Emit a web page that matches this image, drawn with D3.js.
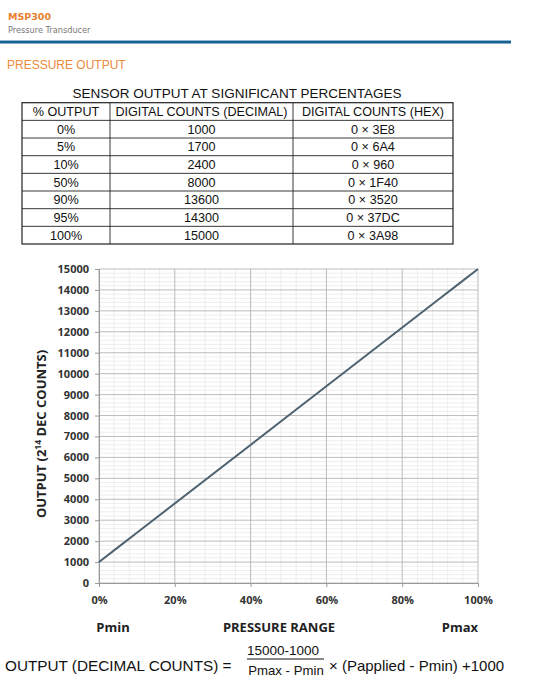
<!DOCTYPE html>
<html><head><meta charset="utf-8">
<script src="https://cdn.jsdelivr.net/npm/d3@7"></script>
<style>body{margin:0;background:#fff}svg{display:block}</style>
</head><body>
<svg id="c" width="533" height="686"></svg>
<script>
const tableHeaders = ["% OUTPUT", "DIGITAL COUNTS (DECIMAL)", "DIGITAL COUNTS (HEX)"];
const pctOutput = [0, 5, 10, 50, 90, 95, 100];
const decCounts = [1000, 1700, 2400, 8000, 13600, 14300, 15000];
const hexCounts = ["0 × 3E8", "0 × 6A4", "0 × 960", "0 × 1F40", "0 × 3520", "0 × 37DC", "0 × 3A98"];
const xTicks = [0, 20, 40, 60, 80, 100];
const yTicks = [0,1000,2000,3000,4000,5000,6000,7000,8000,9000,10000,11000,12000,13000,14000,15000];

const svg = d3.select("#c");
const orange = "#e8802e";

// header
svg.append("text").attr("x",8).attr("y",20).text("MSP300")
  .attr("font-family","DejaVu Sans").attr("font-weight","bold").attr("font-size",9.5).attr("fill",orange);
svg.append("text").attr("x",8).attr("y",33).text("Pressure Transducer")
  .attr("font-family","DejaVu Sans").attr("font-size",8.2).attr("fill","#777");
svg.append("rect").attr("x",0).attr("y",40).attr("width",511).attr("height",1).attr("fill","#8dbbd8");
svg.append("rect").attr("x",0).attr("y",41).attr("width",511).attr("height",2.5).attr("fill","#17608f");
svg.append("text").attr("x",7).attr("y",69).text("PRESSURE OUTPUT")
  .attr("font-family","Liberation Sans").attr("font-size",12).attr("fill","#ec8a3c");

// table
svg.append("text").attr("x",237).attr("y",98).attr("text-anchor","middle")
  .text("SENSOR OUTPUT AT SIGNIFICANT PERCENTAGES")
  .attr("font-family","Liberation Sans").attr("font-size",13.5).attr("fill","#111");
const colX = [22, 110, 293, 453];
const tTop = 102.7, tBot = 244;
const rows = [tableHeaders].concat(pctOutput.map((p,i)=>[p+"%", String(decCounts[i]), hexCounts[i]]));
const rowY = d3.scaleBand().domain(d3.range(rows.length)).range([tTop, tBot]);
const tg = svg.append("g");
tg.append("rect").attr("x",colX[0]).attr("y",tTop).attr("width",colX[3]-colX[0]).attr("height",tBot-tTop)
  .attr("fill","none").attr("stroke","#222").attr("stroke-width",1.2);
rows.forEach((r,i)=>{
  if(i>0) tg.append("line").attr("x1",colX[0]).attr("x2",colX[3]).attr("y1",rowY(i)).attr("y2",rowY(i)).attr("stroke","#222").attr("stroke-width",0.9);
  r.forEach((c,j)=>{
    tg.append("text").attr("x",(colX[j]+colX[j+1])/2).attr("y",rowY(i)+rowY.bandwidth()/2+4.5)
      .attr("text-anchor","middle").text(c)
      .attr("font-family","Liberation Sans").attr("font-size",12.6).attr("fill","#111");
  });
});
[1,2].forEach(j=>tg.append("line").attr("x1",colX[j]).attr("x2",colX[j]).attr("y1",tTop).attr("y2",tBot).attr("stroke","#222").attr("stroke-width",0.9));

// chart
const x = d3.scaleLinear().domain([0,100]).range([99,478]);
const y = d3.scaleLinear().domain([0,15000]).range([583,269]);
const g = svg.append("g");
// minor grid
d3.range(0,100.1,4).forEach(v=>{ if(v%20) g.append("line").attr("x1",x(v)).attr("x2",x(v)).attr("y1",y(0)).attr("y2",y(15000)).attr("stroke","#e8e8e8").attr("stroke-width",0.8);});
d3.range(0,15001,200).forEach(v=>{ if(v%1000) g.append("line").attr("x1",x(0)).attr("x2",x(100)).attr("y1",y(v)).attr("y2",y(v)).attr("stroke","#eaeaea").attr("stroke-width",0.8);});
// major grid
xTicks.forEach(v=>g.append("line").attr("x1",x(v)).attr("x2",x(v)).attr("y1",y(0)).attr("y2",y(15000)).attr("stroke","#b4b4b4").attr("stroke-width",0.9));
yTicks.forEach(v=>g.append("line").attr("x1",x(0)).attr("x2",x(100)).attr("y1",y(v)).attr("y2",y(v)).attr("stroke","#b4b4b4").attr("stroke-width",0.9));

const yAxis = d3.axisLeft(y).tickValues(yTicks).tickSize(4).tickPadding(6).tickFormat(d3.format("d"));
const ya = svg.append("g").attr("transform",`translate(${x(0)},0)`).call(yAxis);
const xAxis = d3.axisBottom(x).tickValues(xTicks).tickSize(4).tickPadding(9).tickFormat(d=>d+"%");
const xa = svg.append("g").attr("transform",`translate(0,${y(0)})`).call(xAxis);
[ya,xa].forEach(a=>{
  a.select(".domain").attr("stroke","#999");
  a.selectAll(".tick line").attr("stroke","#999");
  a.selectAll("text").attr("font-family","Open Sans").attr("font-weight","bold").attr("font-size",11).attr("fill","#333");
});

const line = d3.line().x((d,i)=>x(pctOutput[i])).y(d=>y(d));
svg.append("path").attr("d",line(decCounts)).attr("fill","none").attr("stroke","#4d6270").attr("stroke-width",2);

// axis labels
const yt = svg.append("text").attr("transform","translate(46,434) rotate(-90)").attr("text-anchor","middle")
  .attr("font-family","Open Sans").attr("font-weight","bold").attr("font-size",13).attr("fill","#222");
yt.append("tspan").text("OUTPUT (2");
yt.append("tspan").text("14").attr("font-size",8.5).attr("dy",-5);
yt.append("tspan").text(" DEC COUNTS)").attr("dy",5);
[["Pmin",113],["PRESSURE RANGE",279],["Pmax",460]].forEach(([t,cx])=>
  svg.append("text").attr("x",cx).attr("y",632).attr("text-anchor","middle").text(t)
    .attr("font-family","Open Sans").attr("font-weight","bold").attr("font-size",13).attr("fill","#222"));

// formula
const ff = "Liberation Sans";
svg.append("text").attr("x",5).attr("y",671).text("OUTPUT (DECIMAL COUNTS) =")
  .attr("font-family",ff).attr("font-size",15.3).attr("fill","#111");
svg.append("text").attr("x",283).attr("y",655).attr("text-anchor","middle").text("15000-1000")
  .attr("font-family",ff).attr("font-size",13.5).attr("fill","#111");
svg.append("line").attr("x1",247).attr("x2",324).attr("y1",659).attr("y2",659).attr("stroke","#111").attr("stroke-width",1);
svg.append("text").attr("x",286).attr("y",675).attr("text-anchor","middle").text("Pmax - Pmin")
  .attr("font-family",ff).attr("font-size",13.2).attr("fill","#111");
svg.append("text").attr("x",329).attr("y",671).text("× (Papplied - Pmin) +1000")
  .attr("font-family",ff).attr("font-size",15).attr("fill","#111");
</script>
</body></html>
